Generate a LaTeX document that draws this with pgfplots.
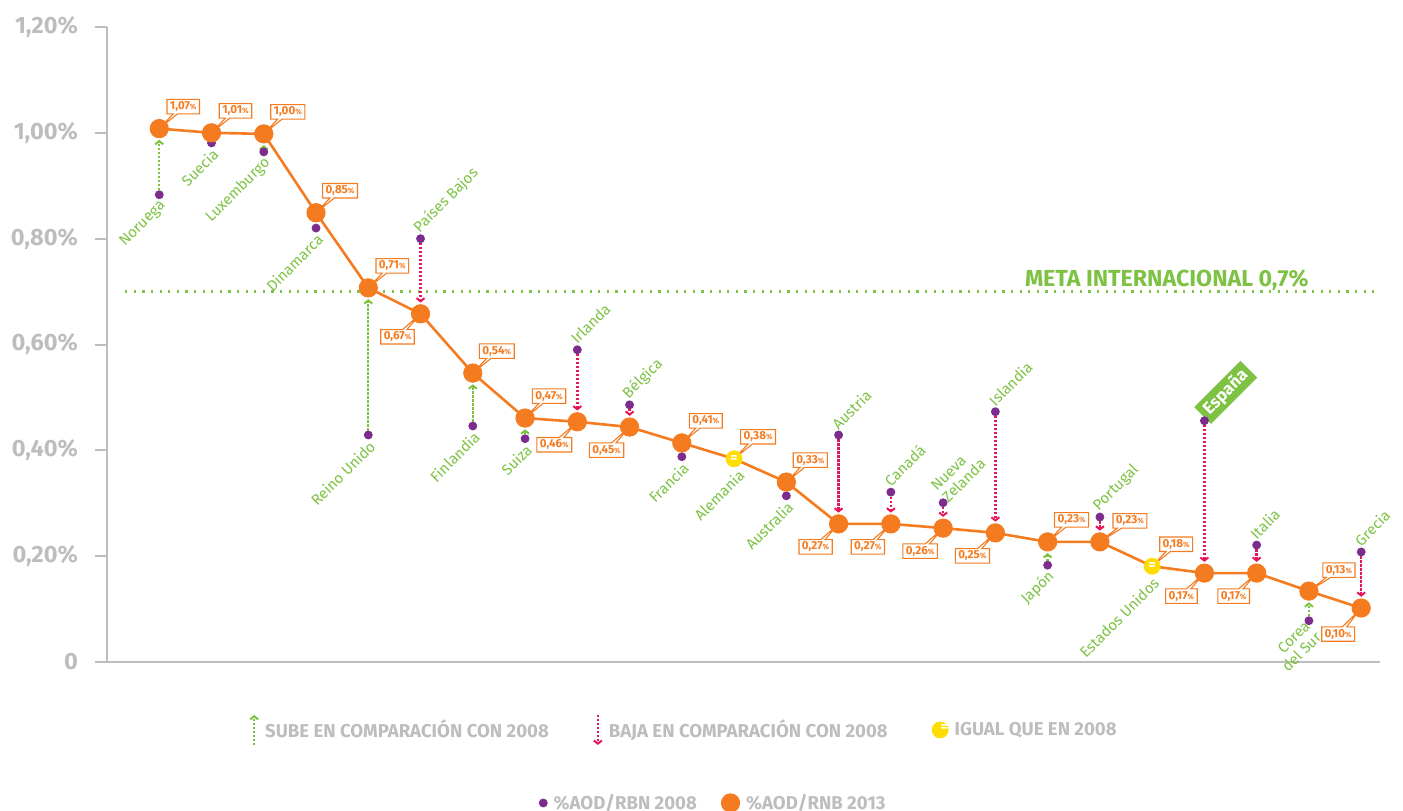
\documentclass[border=0pt]{standalone}
\usepackage{fontspec}
\setmainfont{Fira Sans}
\usepackage{pgfplots}
\usepackage{pgfplotstable}
\pgfplotsset{compat=1.18}
\usetikzlibrary{shapes.callouts,arrows.meta}
\definecolor{cOr}{HTML}{F47B20}
\definecolor{cPu}{HTML}{7B2C8C}
\definecolor{cGr}{HTML}{7DC242}
\definecolor{cRe}{HTML}{E5175A}
\definecolor{cYe}{HTML}{FFDD00}
\definecolor{cGy}{HTML}{BDBDBD}
\newcommand{\pct}{{\fontsize{3.8}{4}\selectfont\%}}

\pgfplotstableread{
x v
0 1.008
1 1.000
2 0.998
3 0.849
4 0.707
5 0.658
6 0.546
7 0.461
8 0.454
9 0.444
10 0.414
11 0.384
12 0.340
13 0.261
14 0.261
15 0.253
16 0.244
17 0.227
18 0.227
19 0.181
20 0.168
21 0.168
22 0.134
23 0.102
}\tblLine

\pgfplotstableread{
x v
0 1.008
1 1.000
2 0.998
3 0.849
4 0.707
5 0.658
6 0.546
7 0.461
8 0.454
9 0.444
10 0.414
12 0.340
13 0.261
14 0.261
15 0.253
16 0.244
17 0.227
18 0.227
20 0.168
21 0.168
22 0.134
23 0.102
}\tblCirc

\pgfplotstableread{
x v
0 0.883
1 0.981
2 0.964
3 0.820
4 0.429
5 0.800
6 0.446
7 0.422
8 0.590
9 0.486
10 0.388
12 0.314
13 0.429
14 0.321
15 0.301
16 0.473
17 0.183
18 0.274
20 0.456
21 0.221
22 0.078
23 0.208
}\tblOld

\tikzset{
  arr/.style={line width=1.2pt, dash pattern=on 1.1pt off 0.9pt, shorten <=2.2pt, shorten >=5.6pt,
     -{Straight Barb[length=1.6pt,width=4pt,line width=1pt]}},
  upar/.style={arr, cGr},
  dnar/.style={arr, cRe},
  vbox/.style={rectangle callout, draw=cOr, fill=white, line width=0.55pt, text=cOr,
     font=\fontsize{5.8}{6}\selectfont\bfseries, inner xsep=1.5pt, inner ysep=1.1pt,
     minimum height=7pt, callout pointer width=2.2pt, callout pointer shorten=6pt},
  ur/.style={vbox, xshift=12pt, yshift=11pt, callout relative pointer={(-12pt,-11pt)}},
  urw/.style={vbox, xshift=15pt, yshift=10.5pt, callout relative pointer={(-15pt,-10.5pt)}},
  bl/.style={vbox, xshift=-11.5pt, yshift=-11.5pt, callout relative pointer={(11.5pt,11.5pt)}},
  cl/.style={text=cGr, font=\fontsize{7.5}{8}\selectfont, rotate=45, inner sep=0pt, align=left},
  lb/.style={cl, anchor=east, xshift=-1.5pt, yshift=-4.5pt},
  la/.style={cl, anchor=west, xshift=1.5pt, yshift=4.5pt},
}
\newcommand{\up}[3]{\addplot[upar] coordinates {(#1,#2) (#1,#3)};}
\newcommand{\dn}[3]{\addplot[dnar] coordinates {(#1,#2) (#1,#3)};}

\begin{document}
\begin{tikzpicture}
\path[use as bounding box] (-53.5pt,-74pt) rectangle (648pt,331pt);
\begin{axis}[
  at={(0,0)}, anchor=south west,
  width=636.5pt, height=317.5pt, scale only axis,
  xmin=-1, xmax=23.36, ymin=0, ymax=1.2,
  axis x line*=bottom, axis y line*=left,
  axis line style={cGy, line width=1pt},
  xtick=\empty,
  ytick={0,0.2,0.4,0.6,0.8,1.0,1.2},
  yticklabels={0,{0,20\%},{0,40\%},{0,60\%},{0,80\%},{1,00\%},{1,20\%}},
  tick align=outside, major tick length=6pt,
  tick style={cGy, line width=1pt},
  yticklabel style={font=\fontsize{11.8}{12}\selectfont\bfseries, text=cGy, xshift=-5pt},
  clip=false,
  legend style={at={(0.454,-0.107)}, anchor=center, draw=none, fill=none,
     font=\fontsize{9.3}{10}\selectfont\bfseries, text=cGy,
     /tikz/every odd column/.append style={column sep=1pt},
     /tikz/every even column/.append style={column sep=20pt}},
  legend columns=3, legend cell align=left,
]
\addlegendimage{legend image code/.code={\draw[cGr, line width=1.1pt, dash pattern=on 1pt off 1pt, -{Straight Barb[length=1.6pt,width=4pt,line width=1pt]}] (0cm,-7.5pt) -- (0cm,7.5pt);}}
\addlegendentry{SUBE EN COMPARACIÓN CON 2008}
\addlegendimage{legend image code/.code={\draw[cRe, line width=1.1pt, dash pattern=on 1pt off 1pt, -{Straight Barb[length=1.6pt,width=4pt,line width=1pt]}] (0cm,7.5pt) -- (0cm,-7.5pt);}}
\addlegendentry{BAJA EN COMPARACIÓN CON 2008}
\addlegendimage{legend image code/.code={\fill[cYe] (0cm,0) circle (4pt); \node[text=white, font=\fontsize{7}{7}\selectfont\bfseries, inner sep=0pt] at (0cm,0) {=};}}
\addlegendentry{IGUAL QUE EN 2008}

% meta line
\addplot[cGr, line width=1.1pt, dash pattern=on 1.1pt off 3.2pt, forget plot] coordinates {(-0.65,0.70) (23.36,0.70)};
\node[anchor=base east, text=cGr, font=\fontsize{11.6}{12}\selectfont\bfseries, inner sep=0pt] at (axis cs:22.0,0.70) [yshift=2.7pt] {META INTERNACIONAL 0,7\%};

% arrows
\up{0}{0.883}{1.008}
\up{2}{0.964}{0.998}
\up{4}{0.429}{0.707}
\dn{5}{0.800}{0.658}
\up{6}{0.446}{0.546}
\up{7}{0.422}{0.461}
\dn{8}{0.590}{0.454}
\dn{9}{0.486}{0.444}
\dn{13}{0.429}{0.261}
\dn{14}{0.321}{0.261}
\dn{15}{0.301}{0.253}
\dn{16}{0.473}{0.244}
\up{17}{0.183}{0.227}
\dn{18}{0.274}{0.227}
\dn{20}{0.456}{0.168}
\dn{21}{0.221}{0.168}
\up{22}{0.078}{0.134}
\dn{23}{0.208}{0.102}

% 2008 dots
\addplot[only marks, mark=*, mark size=2pt, cPu, forget plot] table[x=x,y=v] {\tblOld};
% 2013 line and circles
\addplot[cOr, line width=1.3pt, forget plot] table[x=x,y=v] {\tblLine};
\addplot[only marks, mark=*, mark size=4.6pt, cOr, forget plot] table[x=x,y=v] {\tblCirc};
\addplot[only marks, mark=*, mark size=4pt, cYe, forget plot,
   nodes near coords={=}, every node near coord/.style={anchor=center, text=white, inner sep=0pt, font=\fontsize{7}{7}\selectfont\bfseries}]
   coordinates {(11,0.384) (19,0.181)};

% country labels
\node[lb] at (axis cs:0,0.883) {Noruega};
\node[lb] at (axis cs:1,0.981) {Suecia};
\node[lb] at (axis cs:2,0.964) {Luxemburgo};
\node[lb] at (axis cs:3,0.820) {Dinamarca};
\node[lb] at (axis cs:4,0.429) {Reino Unido};
\node[la] at (axis cs:5,0.800) {Países Bajos};
\node[lb] at (axis cs:6,0.446) {Finlandia};
\node[lb] at (axis cs:7,0.422) {Suiza};
\node[la] at (axis cs:8,0.590) {Irlanda};
\node[la] at (axis cs:9,0.486) {Bélgica};
\node[lb] at (axis cs:10,0.388) {Francia};
\node[lb, xshift=-0.5pt, yshift=-3pt] at (axis cs:11,0.384) {Alemania};
\node[lb] at (axis cs:12,0.314) {Australia};
\node[la] at (axis cs:13,0.429) {Austria};
\node[la] at (axis cs:14,0.321) {Canadá};
\node[la] at (axis cs:15,0.301) {Nueva\\Zelanda};
\node[la] at (axis cs:16,0.473) {Islandia};
\node[lb] at (axis cs:17,0.183) {Japón};
\node[la] at (axis cs:18,0.274) {Portugal};
\node[lb, xshift=-2pt, yshift=-2pt] at (axis cs:19,0.181) {Estados Unidos};
\node[rotate=45, anchor=west, fill=cGr, text=white, font=\fontsize{8.5}{9}\selectfont\bfseries,
      inner xsep=2.5pt, inner ysep=1.6pt, xshift=1pt, yshift=2.5pt] at (axis cs:20,0.456) {España};
\node[la] at (axis cs:21,0.221) {Italia};
\node[lb, align=right] at (axis cs:22,0.078) {Corea\\del Sur};
\node[la] at (axis cs:23,0.208) {Grecia};

% value labels
\node[ur] at (axis cs:0,1.008) {1,07\pct};
\node[ur] at (axis cs:1,1.000) {1,01\pct};
\node[ur] at (axis cs:2,0.998) {1,00\pct};
\node[ur] at (axis cs:3,0.849) {0,85\pct};
\node[ur] at (axis cs:4,0.707) {0,71\pct};
\node[bl] at (axis cs:5,0.658) {0,67\pct};
\node[ur] at (axis cs:6,0.546) {0,54\pct};
\node[ur] at (axis cs:7,0.461) {0,47\pct};
\node[bl] at (axis cs:8,0.454) {0,46\pct};
\node[bl] at (axis cs:9,0.444) {0,45\pct};
\node[ur] at (axis cs:10,0.414) {0,41\pct};
\node[ur] at (axis cs:11,0.384) {0,38\pct};
\node[ur] at (axis cs:12,0.340) {0,33\pct};
\node[bl] at (axis cs:13,0.261) {0,27\pct};
\node[bl] at (axis cs:14,0.261) {0,27\pct};
\node[bl] at (axis cs:15,0.253) {0,26\pct};
\node[bl] at (axis cs:16,0.244) {0,25\pct};
\node[ur] at (axis cs:17,0.227) {0,23\pct};
\node[urw] at (axis cs:18,0.227) {0,23\pct};
\node[ur] at (axis cs:19,0.181) {0,18\pct};
\node[bl] at (axis cs:20,0.168) {0,17\pct};
\node[bl] at (axis cs:21,0.168) {0,17\pct};
\node[urw] at (axis cs:22,0.134) {0,13\pct};
\node[bl, yshift=-1.5pt, callout relative pointer={(11.5pt,13pt)}] at (axis cs:23,0.102) {0,10\pct};
\end{axis}

\begin{axis}[
  at={(0,0)}, anchor=south west,
  width=636.5pt, height=317.5pt, scale only axis,
  hide axis, xmin=0, xmax=1, ymin=0, ymax=1,
  legend style={at={(0.477,-0.222)}, anchor=center, draw=none, fill=none,
     font=\fontsize{9.3}{10}\selectfont\bfseries, text=cGy,
     /tikz/every odd column/.append style={column sep=1pt},
     /tikz/every even column/.append style={column sep=10pt}},
  legend columns=2, legend cell align=left,
]
\addlegendimage{legend image code/.code={\fill[cPu] (0,0) circle (2pt);}}
\addlegendentry{\%AOD/RBN 2008}
\addlegendimage{legend image code/.code={\fill[cOr] (0,0) circle (4.6pt);}}
\addlegendentry{\%AOD/RNB 2013}
\end{axis}
\end{tikzpicture}
\end{document}
